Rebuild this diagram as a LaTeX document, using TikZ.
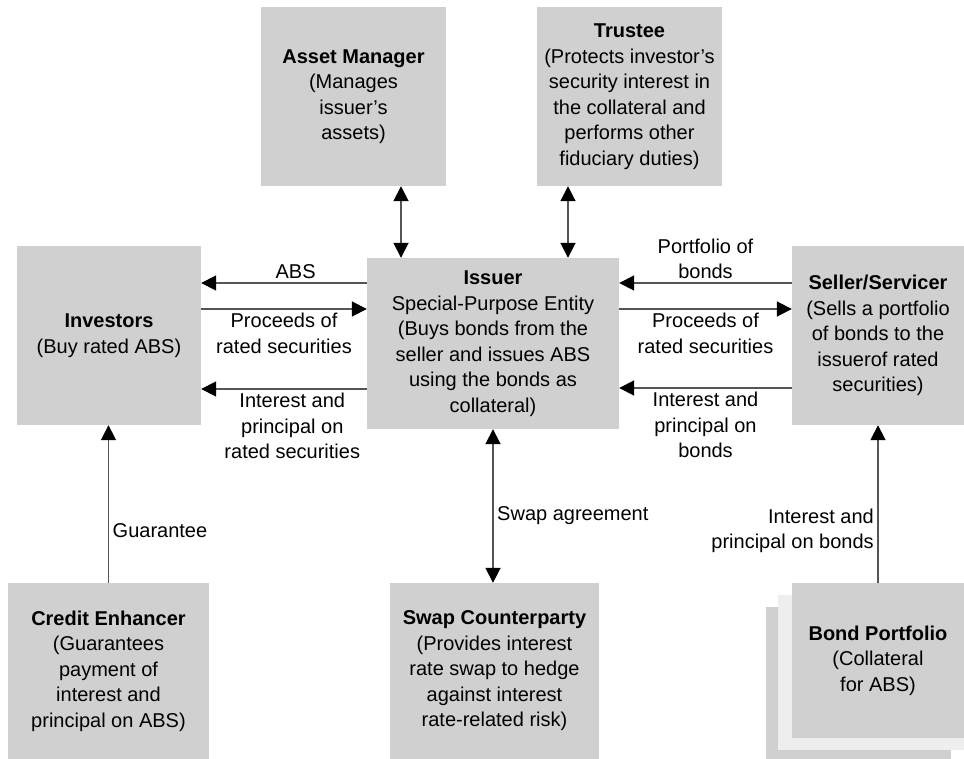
\documentclass[tikz,border=0pt]{standalone}
\usepackage{fontspec}
\setmainfont{Liberation Sans}
\usetikzlibrary{arrows.meta,positioning}
\definecolor{boxgray}{RGB}{208,208,208}
\definecolor{sheetgray}{RGB}{238,238,238}
\definecolor{linegray}{RGB}{85,85,85}
\tikzset{
  box/.style={fill=boxgray,inner sep=0pt,align=center,font=\fontsize{20}{25.5}\selectfont},
  flow/.style={-{Triangle[length=15pt,width=15pt,black]},draw=linegray,line width=1.8pt},
  twoway/.style={{Triangle[length=15pt,width=15pt,black]}-{Triangle[length=15pt,width=15pt,black]},draw=linegray,line width=1.8pt},
  lbl/.style={font=\fontsize{20}{25.5}\selectfont,align=center}
}

\begin{document}
\begin{tikzpicture}[x=1pt,y=-1pt]
\useasboundingbox (0,0) rectangle (964,759);
% parties arriba
\node[box,minimum width=185pt,minimum height=179pt] (assetmgr) at (353.5,96.5) {\textbf{Asset Manager}\\(Manages\\issuer's\\assets)};
\node[box,minimum width=185pt,minimum height=179pt] (trustee) at (629.5,96.5) {\textbf{Trustee}\\(Protects investor's\\security interest in\\the collateral and\\performs other\\fiduciary duties)};
% fila central
\node[box,minimum width=184pt,minimum height=179pt] (investors) at (109,335.5) {\textbf{Investors}\\(Buy rated ABS)};
\node[box,minimum width=252pt,minimum height=171pt] (issuer) at (493,343.5) {\textbf{Issuer}\\Special-Purpose Entity\\(Buys bonds from the\\seller and issues ABS\\using the bonds as\\collateral)};
\node[box,minimum width=172pt,minimum height=179pt] (seller) at (878,335.5) {\textbf{Seller/Servicer}\\(Sells a portfolio\\of bonds to the\\issuerof rated\\securities)};
% fila de abajo
\node[box,minimum width=201pt,minimum height=176pt] (credit) at (108.5,671) {\textbf{Credit Enhancer}\\(Guarantees\\payment of\\interest and\\principal on ABS)};
\node[box,minimum width=209pt,minimum height=176pt] (swap) at (494.5,671) {\textbf{Swap Counterparty}\\(Provides interest\\rate swap to hedge\\against interest\\rate-related risk)};
\node[box,minimum width=185pt,minimum height=152pt] (bondback) at (858.5,683) {};
\node[box,fill=sheetgray,minimum width=186pt,minimum height=155pt] (bondmid) at (871,672.5) {};
\node[box,minimum width=172pt,minimum height=155pt] (bond) at (878,660.5) {\textbf{Bond Portfolio}\\(Collateral\\for ABS)};
% flechas
\draw[twoway] ([xshift=47.5pt]assetmgr.south) -- ([xshift=47.5pt]assetmgr.south |- issuer.north);
\draw[twoway] ([xshift=-61.5pt]trustee.south) -- ([xshift=-61.5pt]trustee.south |- issuer.north);
\draw[flow] ([yshift=60.5pt]issuer.west) -- ([yshift=60.5pt]issuer.west -| investors.east)
  node[pos=0.43,above,lbl] {ABS};
\draw[flow] ([yshift=34.5pt]investors.east |- issuer.west) -- ([yshift=34.5pt]issuer.west)
  node[midway,below,lbl] {Proceeds of\\rated securities};
\draw[flow] ([yshift=-45.5pt]issuer.west) -- ([yshift=-45.5pt]issuer.west -| investors.east)
  node[pos=0.45,below,lbl] {Interest and\\principal on\\rated securities};
\draw[flow] ([yshift=60.5pt]seller.west |- issuer.east) -- ([yshift=60.5pt]issuer.east)
  node[midway,above,lbl] {Portfolio of\\bonds};
\draw[flow] ([yshift=34.5pt]issuer.east) -- ([yshift=34.5pt]issuer.east -| seller.west)
  node[midway,below,lbl] {Proceeds of\\rated securities};
\draw[flow] ([yshift=-44.5pt]seller.west |- issuer.east) -- ([yshift=-44.5pt]issuer.east)
  node[midway,below,lbl] {Interest and\\principal on\\bonds};
\draw[flow] (credit.north) -- (credit.north |- investors.south)
  node[pos=0.33,right,lbl] {Guarantee};
\draw[twoway] (issuer.south) -- (issuer.south |- swap.north)
  node[pos=0.56,right,lbl] {Swap agreement};
\draw[flow] (bond.north) -- (bond.north |- seller.south)
  node[pos=0.33,left,lbl,align=right] {Interest and\\principal on bonds};
\end{tikzpicture}
\end{document}
